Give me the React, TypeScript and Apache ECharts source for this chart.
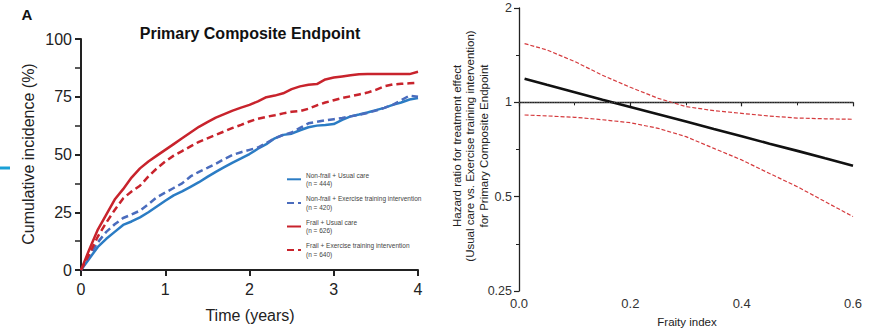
import React, { useEffect, useRef } from "react";
import * as echarts from "echarts";

// ---- Panel A: cumulative incidence (%) over time (years) ----
const times = [0, 0.05, 0.1, 0.2, 0.3, 0.4, 0.5, 0.6, 0.7, 0.8, 0.9, 1.0, 1.1, 1.2, 1.3, 1.4, 1.5, 1.6, 1.7, 1.8, 1.9, 2.0, 2.1, 2.2, 2.3, 2.4, 2.5, 2.6, 2.7, 2.8, 2.9, 3.0, 3.1, 3.2, 3.3, 3.4, 3.5, 3.6, 3.7, 3.8, 3.9, 4.0];
const nonFrailUsual = [0, 2.5, 5, 10, 13.5, 16.5, 19.5, 21, 22.8, 25, 27.5, 30, 32.3, 34, 36, 38, 40.3, 42.5, 44.5, 46.5, 48.3, 50.2, 52.5, 54.5, 57, 58.5, 59, 60.5, 61.8, 62.5, 62.8, 63.2, 65, 66.5, 67.3, 68.2, 69.2, 70.2, 71.5, 72.5, 73.8, 74.5];
const nonFrailExercise = [0, 3, 6, 12, 16.5, 19.8, 22.5, 24, 25.7, 28.5, 31.5, 33.5, 35.5, 37.5, 40.5, 42.5, 44.2, 46, 48, 49.8, 51, 52, 53, 55, 57, 58.5, 59.5, 61.5, 63.5, 64.2, 64.8, 65.3, 65.8, 66.5, 67.2, 68, 69, 70.2, 71.5, 73.5, 75.5, 75];
const frailUsual = [0, 4.5, 9, 17.5, 24, 30.5, 35, 40, 44, 47, 49.5, 52, 54.5, 57, 59.5, 62, 64, 66, 67.5, 69, 70.3, 71.5, 73, 74.8, 75.5, 76.5, 78.3, 79.5, 80.2, 80.5, 82.5, 83.3, 83.8, 84.3, 84.7, 84.8, 84.8, 84.8, 84.8, 84.8, 84.8, 85.8];
const frailExercise = [0, 3.5, 7, 14.5, 20.5, 26, 31, 34, 36.5, 40.5, 44, 47, 49.5, 51.5, 53.5, 55.5, 57, 58.5, 60, 61.5, 62.8, 64.3, 65.5, 66.3, 67, 67.8, 68.5, 68.8, 69.8, 71.3, 72.5, 73.5, 74.5, 75.2, 76, 76.8, 78, 79.5, 80.3, 80.6, 80.8, 81];

const groupNames = [
  "Non-frail + Usual care",
  "Non-frail + Exercise training intervention",
  "Frail + Usual care",
  "Frail + Exercise training intervention",
];
const groupCounts = ["(n = 444)", "(n = 420)", "(n = 626)", "(n = 640)"];
const yTicksA = [0, 25, 50, 75, 100];
const xTicksA = [0, 1, 2, 3, 4];

// ---- Panel B: hazard ratio vs frailty index ----
const frailtyIndex = [0.01, 0.05, 0.1, 0.15, 0.2, 0.25, 0.3, 0.35, 0.4, 0.45, 0.5, 0.55, 0.6];
const hazardRatio = [1.19, 1.137, 1.077, 1.02, 0.967, 0.916, 0.868, 0.822, 0.779, 0.738, 0.7, 0.663, 0.628];
const upperCI = [1.54, 1.47, 1.35, 1.22, 1.117, 1.03, 0.969, 0.941, 0.922, 0.904, 0.891, 0.886, 0.883];
const lowerCI = [0.911, 0.905, 0.896, 0.88, 0.861, 0.826, 0.777, 0.713, 0.655, 0.593, 0.538, 0.482, 0.432];
const hrTickLabels = ["0.25", "0.5", "1", "2"];

const FONT = "'Liberation Sans', Arial, Helvetica, sans-serif";
const BLUE = "#2b7cc4";
const BLUE_D = "#4a6cbd";
const RED = "#c8232c";

export default function App() {
  const ref = useRef<HTMLDivElement>(null);
  useEffect(() => {
    if (!ref.current) return;
    const chart = echarts.init(ref.current, undefined, { renderer: "svg" });
    const kmSeries = [nonFrailUsual, nonFrailExercise, frailUsual, frailExercise].map((vals, i) => ({
      name: groupNames[i],
      type: "line",
      xAxisIndex: 0,
      yAxisIndex: 0,
      symbol: "none",
      data: times.map((t, j) => [t, vals[j]]),
      lineStyle: {
        width: 2.5,
        color: i < 2 ? (i === 0 ? BLUE : BLUE_D) : RED,
        type: i % 2 === 1 ? [7, 4] : "solid",
      },
      itemStyle: { color: i < 2 ? (i === 0 ? BLUE : BLUE_D) : RED },
    }));
    const log2 = (v: number) => Math.log(v) / Math.LN2;
    const countMap: Record<string, string> = {};
    groupNames.forEach((n, i) => (countMap[n] = groupCounts[i]));

    chart.setOption({
      animation: false,
      textStyle: { fontFamily: FONT },
      grid: [
        { left: 81, top: 39, width: 337, height: 231 },
        { left: 519, top: 8, width: 334, height: 283 },
      ],
      legend: {
        orient: "vertical",
        left: 281,
        top: 166,
        itemWidth: 14,
        itemHeight: 8,
        itemGap: 7,
        data: groupNames,
        itemStyle: { opacity: 0 },
        formatter: (name: string) => name + "\n" + countMap[name],
        textStyle: { fontSize: 6.5, lineHeight: 8.3, color: "#444", fontFamily: FONT },
      },
      xAxis: [
        {
          type: "value",
          gridIndex: 0,
          min: xTicksA[0],
          max: xTicksA[xTicksA.length - 1],
          interval: 1,
          splitLine: { show: false },
          axisLine: { lineStyle: { color: "#222", width: 2 } },
          axisTick: { length: 6, lineStyle: { width: 2, color: "#222" } },
          axisLabel: { fontSize: 16, color: "#222", margin: 11, fontFamily: FONT },
        },
        {
          type: "value",
          gridIndex: 1,
          min: 0,
          max: 0.6,
          interval: 0.2,
          splitLine: { show: false },
          axisLine: { lineStyle: { color: "#222", width: 1.3 } },
          axisTick: { length: 4, lineStyle: { width: 1.2, color: "#222" } },
          minorTick: { show: true, splitNumber: 2, length: 3, lineStyle: { color: "#222", width: 1 } },
          minorSplitLine: { show: false },
          axisLabel: { fontSize: 13, color: "#333", margin: 6, fontFamily: FONT, formatter: (v: number) => v.toFixed(1) },
        },
      ],
      yAxis: [
        {
          type: "value",
          gridIndex: 0,
          min: yTicksA[0],
          max: yTicksA[yTicksA.length - 1],
          interval: 25,
          splitLine: { show: false },
          axisLine: { show: true, lineStyle: { color: "#222", width: 2 } },
          axisTick: { show: true, length: 6, lineStyle: { width: 2, color: "#222" } },
          minorTick: { show: true, splitNumber: 2, length: 6, lineStyle: { color: "#222", width: 1.5 } },
          minorSplitLine: { show: false },
          axisLabel: { fontSize: 16, color: "#222", margin: 9, fontFamily: FONT },
        },
        {
          type: "value",
          gridIndex: 1,
          min: -2,
          max: 1,
          interval: 1,
          splitLine: { show: false },
          axisLine: { show: true, lineStyle: { color: "#222", width: 1.3 } },
          axisTick: { show: true, length: 5, lineStyle: { width: 1.2, color: "#222" } },
          minorTick: { show: true, splitNumber: 2, length: 3, lineStyle: { color: "#222", width: 1 } },
          minorSplitLine: { show: false },
          axisLabel: {
            fontSize: 12.5,
            color: "#333",
            margin: 7,
            fontFamily: FONT,
            formatter: (v: number) => hrTickLabels[Math.round(v) + 2],
          },
        },
      ],
      series: [
        ...kmSeries,
        {
          name: "Upper CI",
          type: "line",
          xAxisIndex: 1,
          yAxisIndex: 1,
          symbol: "none",
          data: frailtyIndex.map((x, i) => [x, log2(upperCI[i])]),
          lineStyle: { width: 1.2, color: "#d53a3d", type: [4, 2] },
        },
        {
          name: "Lower CI",
          type: "line",
          xAxisIndex: 1,
          yAxisIndex: 1,
          symbol: "none",
          data: frailtyIndex.map((x, i) => [x, log2(lowerCI[i])]),
          lineStyle: { width: 1.2, color: "#d53a3d", type: [4, 2] },
        },
        {
          name: "Hazard ratio",
          type: "line",
          xAxisIndex: 1,
          yAxisIndex: 1,
          symbol: "none",
          data: frailtyIndex.map((x, i) => [x, log2(hazardRatio[i])]),
          lineStyle: { width: 2.6, color: "#111" },
          markLine: {
            silent: true,
            symbol: ["none", "none"],
            label: { show: false },
            lineStyle: { type: [1, 1.5], color: "#555", width: 1 },
            data: [{ yAxis: log2(1) }],
          },
          z: 1,
        },
      ],
      graphic: [
        { type: "rect", left: 0, top: 166.5, shape: { width: 10, height: 3 }, style: { fill: "#1aa0d6" } },
        {
          type: "text",
          x: 27,
          y: 14,
          style: { text: "A", fontSize: 15, fontWeight: "bold", fill: "#111", align: "center", verticalAlign: "middle", fontFamily: FONT },
        },
        {
          type: "text",
          x: 250,
          y: 33,
          style: { text: "Primary Composite Endpoint", fontSize: 16, fontWeight: "bold", fill: "#111", align: "center", verticalAlign: "middle", fontFamily: FONT },
        },
        {
          type: "text",
          x: 250,
          y: 315,
          style: { text: "Time (years)", fontSize: 16, fill: "#222", align: "center", verticalAlign: "middle", fontFamily: FONT },
        },
        {
          type: "text",
          x: 28,
          y: 154,
          rotation: Math.PI / 2,
          style: { text: "Cumulative incidence (%)", fontSize: 16, fill: "#222", align: "center", verticalAlign: "middle", fontFamily: FONT },
        },
        {
          type: "text",
          x: 687,
          y: 322,
          style: { text: "Fraity index", fontSize: 11.5, fill: "#222", align: "center", verticalAlign: "middle", fontFamily: FONT },
        },
        {
          type: "text",
          x: 470,
          y: 146,
          rotation: Math.PI / 2,
          style: {
            text: "Hazard ratio for treatment effect\n(Usual care vs. Exercise training intervention)\nfor Primary Composite Endpoint",
            fontSize: 11.5,
            lineHeight: 13.5,
            fill: "#222",
            align: "center",
            verticalAlign: "middle",
            fontFamily: FONT,
          },
        },
      ],
    });
    return () => chart.dispose();
  }, []);
  return <div ref={ref} style={{ position: "absolute", left: 0, top: 0, width: 871, height: 332 }} />;
}
